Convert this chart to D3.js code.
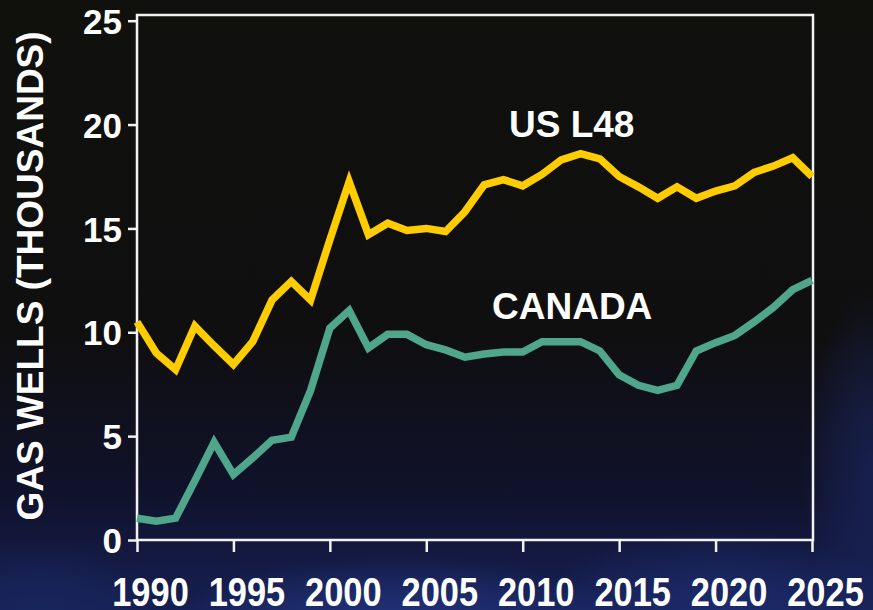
<!DOCTYPE html>
<html>
<head>
<meta charset="utf-8">
<script src="https://cdn.jsdelivr.net/npm/d3@7"></script>
<style>
  html, body { margin: 0; padding: 0; background: #10100d; }
  svg { display: block; }
  text { font-family: "Liberation Sans", Arial, sans-serif; font-weight: bold; fill: #ffffff; }
</style>
</head>
<body>
<svg id="chart" width="873" height="610"></svg>
<script>
// Gas wells drilled per year, thousands
const years = d3.range(1990, 2026);
const usL48 = [10.5, 9.0, 8.2, 10.3, 9.35, 8.45, 9.55, 11.55, 12.45, 11.55,
               14.45, 17.25, 14.7, 15.25, 14.9, 15.0, 14.85, 15.8, 17.1, 17.35,
               17.05, 17.6, 18.3, 18.6, 18.35, 17.5, 17.0, 16.45, 17.0, 16.45,
               16.8, 17.05, 17.7, 18.0, 18.4, 17.5];
const canada = [1.05, 0.9, 1.05, 2.85, 4.7, 3.15, 3.95, 4.8, 4.95, 7.2,
                10.2, 11.05, 9.25, 9.9, 9.9, 9.4, 9.15, 8.8, 8.95, 9.05,
                9.05, 9.55, 9.55, 9.55, 9.1, 7.95, 7.45, 7.2, 7.45, 9.1,
                9.5, 9.85, 10.5, 11.2, 12.05, 12.5];
const seriesNames = ["US L48", "CANADA"];
const xTicks = [1990, 1995, 2000, 2005, 2010, 2015, 2020, 2025];
const yTicks = [0, 5, 10, 15, 20, 25];
const yTitle = "GAS WELLS (THOUSANDS)";

const svg = d3.select("#chart");
const W = 873, H = 610;
const m = { left: 137, right: 813, top: 15, bottom: 540 };

// Backdrop: dark sky fading into deep blue toward the bottom
const defs = svg.append("defs");
const vgrad = defs.append("linearGradient").attr("id", "sky").attr("x1", 0).attr("y1", 0).attr("x2", 0).attr("y2", 1);
vgrad.append("stop").attr("offset", "0%").attr("stop-color", "#10100d");
vgrad.append("stop").attr("offset", "55%").attr("stop-color", "#0f0f10");
vgrad.append("stop").attr("offset", "80%").attr("stop-color", "#10122a");
vgrad.append("stop").attr("offset", "100%").attr("stop-color", "#161f52");
svg.append("rect").attr("width", W).attr("height", H).attr("fill", "url(#sky)");

function glowGrad(id, color, opacity) {
  const g = defs.append("radialGradient").attr("id", id);
  g.append("stop").attr("offset", "0%").attr("stop-color", color).attr("stop-opacity", opacity);
  g.append("stop").attr("offset", "60%").attr("stop-color", color).attr("stop-opacity", opacity * 0.5);
  g.append("stop").attr("offset", "100%").attr("stop-color", color).attr("stop-opacity", 0);
}
glowGrad("g1", "#18265e", 0.95);
glowGrad("g2", "#26398a", 0.75);
glowGrad("g3", "#1f3078", 0.7);
glowGrad("g4", "#1c2a68", 0.6);

svg.append("ellipse").attr("cx", 40).attr("cy", 620).attr("rx", 120).attr("ry", 80).attr("fill", "url(#g1)");
svg.append("ellipse").attr("cx", 400).attr("cy", 625).attr("rx", 230).attr("ry", 70).attr("fill", "url(#g2)");
svg.append("ellipse").attr("cx", 720).attr("cy", 610).attr("rx", 190).attr("ry", 80).attr("fill", "url(#g3)");
svg.append("ellipse").attr("cx", 873).attr("cy", 470).attr("rx", 70).attr("ry", 180).attr("fill", "url(#g4)");

const x = d3.scaleLinear().domain([1990, 2025]).range([m.left, 812]);
const y = d3.scaleLinear().domain([0, 25]).range([m.bottom, 20.7]);

// Plot frame
svg.append("rect")
  .attr("x", m.left).attr("y", m.top)
  .attr("width", m.right - m.left).attr("height", m.bottom - m.top)
  .attr("fill", "none").attr("stroke", "#f2f2f2").attr("stroke-width", 2.5);

// Y axis
const yAxis = svg.append("g")
  .attr("transform", `translate(${m.left},0)`)
  .call(d3.axisLeft(y).tickValues(yTicks).tickSize(9).tickPadding(6).tickFormat(d3.format("d")));
yAxis.select(".domain").remove();
yAxis.selectAll("line").attr("stroke", "#f2f2f2").attr("stroke-width", 2.5);
yAxis.selectAll("text").style("font-size", "35px").attr("dy", "0.36em").attr("fill", "#fff");

// X axis
const xAxis = svg.append("g")
  .attr("transform", `translate(0,${m.bottom})`)
  .call(d3.axisBottom(x).tickValues(xTicks).tickSize(12).tickPadding(0).tickFormat(d3.format("d")));
xAxis.select(".domain").remove();
xAxis.selectAll("line").attr("stroke", "#f2f2f2").attr("stroke-width", 2.5);
xAxis.selectAll("text")
  .style("font-size", "40px")
  .attr("y", 0).attr("dy", 0)
  .attr("transform", "translate(13,66) scale(0.86,1)")
  .attr("fill", "#fff");

// Axis title
svg.append("text")
  .attr("transform", "translate(43,276) rotate(-90)")
  .attr("text-anchor", "middle")
  .style("font-size", "37px")
  .text(yTitle);

// Series lines
const line = d3.line().x((d, i) => x(years[i])).y(d => y(d)).curve(d3.curveLinear);
svg.append("path").datum(canada)
  .attr("d", line).attr("fill", "none")
  .attr("stroke", "#4fa68b").attr("stroke-width", 7.5).attr("stroke-linejoin", "miter");
svg.append("path").datum(usL48)
  .attr("d", line).attr("fill", "none")
  .attr("stroke", "#ffcc00").attr("stroke-width", 7.5).attr("stroke-linejoin", "miter");

// Series labels
svg.append("text").attr("x", 509).attr("y", 137).style("font-size", "37px").text(seriesNames[0]);
svg.append("text").attr("x", 492).attr("y", 319).style("font-size", "37px").text(seriesNames[1]);
</script>
</body>
</html>
